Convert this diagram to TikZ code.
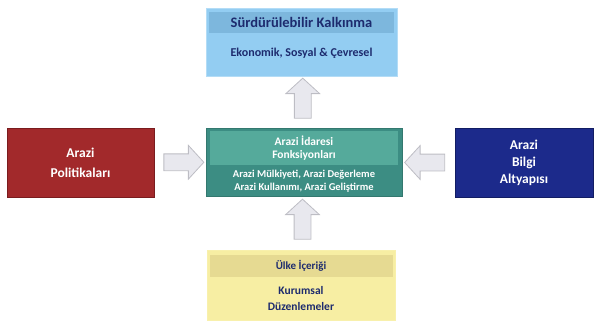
\documentclass[tikz,border=0pt]{standalone}
\usepackage{fontspec}
\setmainfont{Carlito}
\usetikzlibrary{shapes.arrows, calc}

\definecolor{goalfill}{HTML}{93CDF2}
\definecolor{goalhead}{HTML}{7DB7DD}
\definecolor{inkblue}{HTML}{1D2B6E}
\definecolor{policyred}{HTML}{A2292B}
\definecolor{policyline}{HTML}{7A1C1E}
\definecolor{infoblue}{HTML}{1C2A8B}
\definecolor{infoline}{HTML}{121D63}
\definecolor{tealdark}{HTML}{3C8D83}
\definecolor{teallight}{HTML}{55AA9B}
\definecolor{countryfill}{HTML}{F7EEA3}
\definecolor{countryhead}{HTML}{E6DA92}
\definecolor{arrowfill}{HTML}{E8E8EE}
\definecolor{arrowline}{HTML}{BDBDC4}

\tikzset{
	box/.style={rectangle, inner sep=0pt, line width=0.8pt},
	band/.style={rectangle, inner sep=0pt, align=center},
	blockarrow/.style={single arrow, draw=arrowline, fill=arrowfill, line width=0.8pt,
		inner sep=8pt, minimum height=40pt,
		single arrow head extend=8.5pt, single arrow tip angle=95}
}

\begin{document}
\begin{tikzpicture}[x=1pt, y=-1pt]
	\useasboundingbox (0,0) rectangle (596,325);
	% goal on top
	\node[box, fill=goalfill, draw=goalfill!70!white, minimum width=191pt, minimum height=68pt] (goal) at (301.5,42) {};
	\node[band, fill=goalhead, minimum width=185pt, minimum height=21pt, text=inkblue,
		font=\fontsize{14.5}{17}\selectfont\bfseries] (goalhead) at (301.5,22.5) {Sürdürülebilir Kalkınma};
	\node[band, text=inkblue, font=\fontsize{12}{14}\selectfont\bfseries] (goaltext) at (301.5,53.5) {Ekonomik, Sosyal \& Çevresel};
	% left and right
	\node[box, fill=policyred, draw=policyline, minimum width=147pt, minimum height=69pt, text=white, align=center,
		font=\fontsize{13.5}{20}\selectfont\bfseries] (policy) at (80.5,162.5) {Arazi\\Politikaları};
	\node[box, fill=infoblue, draw=infoline, minimum width=138pt, minimum height=69pt, text=white, align=center,
		font=\fontsize{13.5}{17}\selectfont\bfseries] (info) at (524,163) {Arazi\\Bilgi\\Altyapısı};
	% centre
	\node[box, fill=tealdark, draw=tealdark!85!black, minimum width=196pt, minimum height=68pt] (admin) at (304,162) {};
	\node[band, fill=teallight, minimum width=188pt, minimum height=34pt, text=white,
		font=\fontsize{11.5}{13.5}\selectfont\bfseries] (adminhead) at (304,148) {Arazi İdaresi\\Fonksiyonları};
	\node[band, text=white, font=\fontsize{10.5}{12.5}\selectfont\bfseries] (admintext) at (304,181) {Arazi Mülkiyeti, Arazi Değerleme\\Arazi Kullanımı, Arazi Geliştirme};
	% country context
	\node[box, fill=countryfill, draw=countryfill!90!white, minimum width=188pt, minimum height=70pt] (country) at (301,285) {};
	\node[band, fill=countryhead, minimum width=183pt, minimum height=22pt, text=inkblue,
		font=\fontsize{11}{13}\selectfont\bfseries] (countryhead) at (301,266) {Ülke İçeriği};
	\node[band, text=inkblue, font=\fontsize{11.5}{16}\selectfont\bfseries] (countrytext) at (301,298) {Kurumsal\\Düzenlemeler};
	% arrows
	\node[blockarrow, shape border rotate=90] (upper) at ($(goal.south)!0.5!(admin.north)$) {};
	\node[blockarrow, shape border rotate=90] (lower) at ($(admin.south)!0.5!(country.north)$) {};
	\node[blockarrow] (fromleft) at ($(policy.east)!0.5!(admin.west)$) {};
	\node[blockarrow, shape border rotate=180] (fromright) at ($(admin.east)!0.5!(info.west)$) {};
\end{tikzpicture}
\end{document}
